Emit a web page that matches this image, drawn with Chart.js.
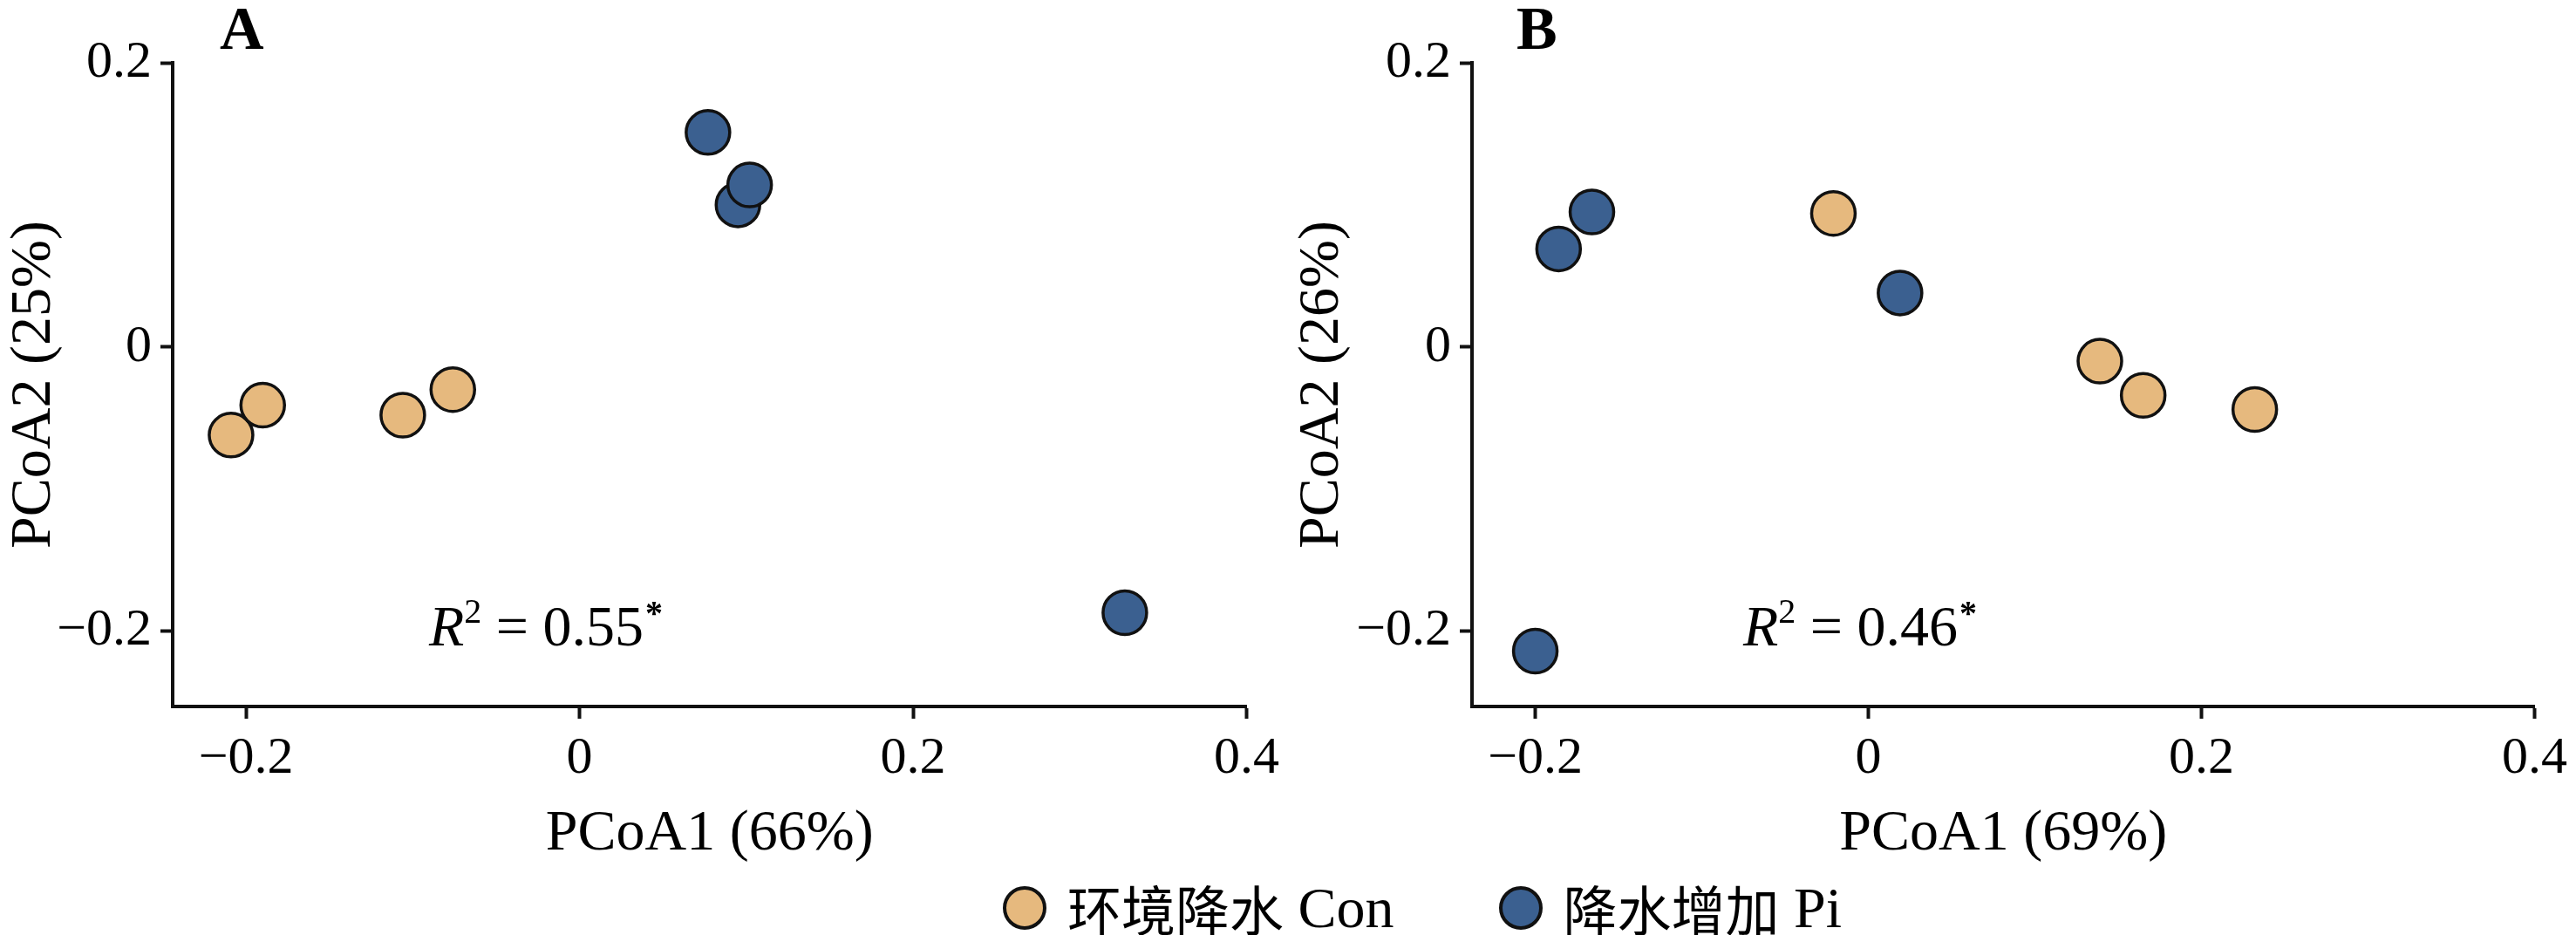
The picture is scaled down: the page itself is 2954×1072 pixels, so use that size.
<!DOCTYPE html>
<html>
<head>
<meta charset="utf-8">
<script src="https://cdn.jsdelivr.net/npm/chart.js@4"></script>
<style>
  body { margin: 0; background: #fff; width: 2954px; height: 1072px; position: relative; overflow: hidden; }
  canvas { position: absolute; top: 0; }
  #legend { position: absolute; top: 996px; left: 1150px; font: 66px "Liberation Serif"; display: flex; align-items: center; }
  .dot { width: 50px; height: 50px; border-radius: 50%; border: 4px solid #111; box-sizing: border-box; margin-right: 24px; }
  .cjk { font-family: "Noto Sans CJK SC"; font-size: 62px; }
</style>
</head>
<body>
<canvas id="chartA" width="1477" height="1000" style="left:0;width:1477px;height:1000px"></canvas>
<canvas id="chartB" width="1477" height="1000" style="left:1477px;width:1477px;height:1000px"></canvas>
<div id="legend">
  <div class="dot" style="background:#E6B97E"></div><span class="cjk">环境降水</span>&nbsp;Con
  <div class="dot" style="background:#3B6090;margin-left:120px"></div><span class="cjk">降水增加</span>&nbsp;Pi
</div>
<script>
const xTicks = [-0.2, 0, 0.2, 0.4];
const yTicks = [-0.2, 0, 0.2];

const conA = [[-0.209, -0.062], [-0.190, -0.041], [-0.106, -0.048], [-0.076, -0.030]];
const piA = [[0.077, 0.151], [0.095, 0.100], [0.102, 0.114], [0.327, -0.187]];
const conB = [[-0.021, 0.094], [0.139, -0.010], [0.165, -0.034], [0.232, -0.044]];
const piB = [[-0.186, 0.069], [-0.166, 0.095], [0.019, 0.038], [-0.200, -0.214]];

const orange = "#E6B97E";
const blue = "#3B6090";
const serif = "Liberation Serif";

const fmt = (v) => (v === 0 ? "0" : (v < 0 ? "\u2212" + Math.abs(v) : String(v)));
const toPts = (arr) => arr.map((p) => ({ x: p[0], y: p[1] }));

const makeChart = (id, con, pi, opts) => {
  const ds = (data, color) => ({
    data: toPts(data),
    backgroundColor: color,
    borderColor: "#111",
    borderWidth: 3.5,
    pointRadius: 25,
    pointHoverRadius: 25,
    clip: false,
  });

  const labels = {
    id: "labels",
    afterDraw(chart) {
      const ctx = chart.ctx;
      ctx.save();
      ctx.fillStyle = "#000";
      ctx.textBaseline = "alphabetic";
      ctx.font = `bold 70px ${serif}`;
      ctx.fillText(opts.letter, opts.letterX, 56);
      let x = opts.rX, y = 740;
      ctx.font = `italic 66px ${serif}`;
      ctx.fillText("R", x, y);
      x += ctx.measureText("R").width;
      ctx.font = `40px ${serif}`;
      ctx.fillText("2", x, y - 26);
      x += ctx.measureText("2").width;
      ctx.font = `66px ${serif}`;
      const t = " = " + opts.r2;
      ctx.fillText(t, x, y);
      x += ctx.measureText(t).width;
      ctx.font = `bold 40px ${serif}`;
      ctx.fillText("*", x + 2, y - 24);
      ctx.restore();
    },
  };

  const axis = (min, max, ticks, title, size, isY) => ({
    type: "linear",
    min: min,
    max: max,
    afterBuildTicks: (s) => { s.ticks = ticks.map((v) => ({ value: v })); },
    afterFit: (s) => { if (isY) s.width = size; else s.height = size; },
    grid: { drawOnChartArea: false, tickLength: 14, tickWidth: 4, tickColor: "#111" },
    border: { color: "#111", width: 4 },
    ticks: { color: "#000", padding: 10, font: { family: serif, size: 60 }, callback: fmt, maxRotation: 0 },
    title: { display: true, text: title, color: "#000", font: { family: serif, size: 66 }, padding: isY ? { top: 0, bottom: 2 } : { top: 0 } },
  });

  new Chart(document.getElementById(id), {
    type: "scatter",
    data: { datasets: [ds(con, orange), ds(pi, blue)] },
    options: {
      responsive: false,
      animation: false,
      layout: { padding: { top: 72, right: opts.padRight, left: 0, bottom: 0 } },
      plugins: { legend: { display: false }, tooltip: { enabled: false } },
      scales: {
        x: axis(opts.xMin, 0.4, xTicks, opts.xTitle, 190, false),
        y: axis(-0.253, 0.2, yTicks, opts.yTitle, opts.yWidth, true),
      },
    },
    plugins: [labels],
  });
};

makeChart("chartA", conA, piA, {
  letter: "A", letterX: 252, rX: 492, r2: "0.55",
  xMin: -0.244, xTitle: "PCoA1 (66%)", yTitle: "PCoA2 (25%)", yWidth: 198, padRight: 41,
});
makeChart("chartB", conB, piB, {
  letter: "B", letterX: 262, rX: 522, r2: "0.46",
  xMin: -0.238, xTitle: "PCoA1 (69%)", yTitle: "PCoA2 (26%)", yWidth: 211, padRight: 28,
});
</script>
</body>
</html>
